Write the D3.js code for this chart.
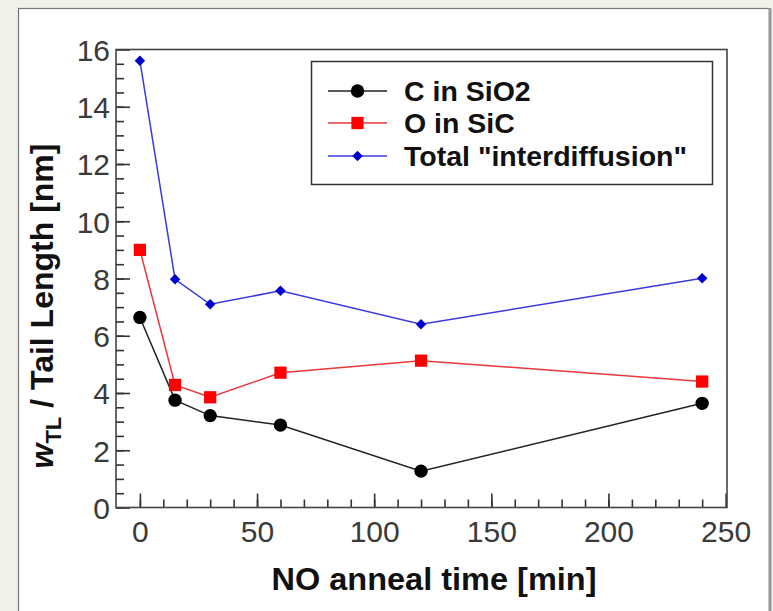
<!DOCTYPE html>
<html>
<head>
<meta charset="utf-8">
<script src="https://d3js.org/d3.v7.min.js"></script>
<style>
  body { margin: 0; background: #f1f1ea; }
  svg { display: block; }
</style>
</head>
<body>
<div id="chart"></div>
<script>
    // anneal times and tail lengths
    const times = [0, 15, 30, 60, 120, 240];
    const cInSiO2 = [6.64, 3.75, 3.21, 2.88, 1.27, 3.64];
    const oInSiC = [9.0, 4.28, 3.85, 4.71, 5.13, 4.40];
    const totalInter = [15.61, 7.97, 7.10, 7.57, 6.40, 8.01];
    const seriesNames = ["C in SiO2", "O in SiC", "Total \"interdiffusion\""];
    const xTicks = [0, 50, 100, 150, 200, 250];
    const yTicks = [0, 2, 4, 6, 8, 10, 12, 14, 16];

    const W = 773, H = 611;
    const margin = {top: 49.5, right: 46, bottom: 103.5, left: 116};
    const width = W - margin.left - margin.right,
        height = H - margin.top - margin.bottom;

    const svg = d3.select("#chart").append("svg")
        .attr("width", W).attr("height", H);

    // white panel
    svg.append("rect")
        .attr("x", 18.5).attr("y", 8.5)
        .attr("width", 751).attr("height", 610)
        .attr("fill", "white")
        .attr("stroke", "#777").attr("stroke-width", 1.2);
    svg.append("line")
        .attr("x1", 770).attr("x2", 770).attr("y1", 8).attr("y2", H)
        .attr("stroke", "#999").attr("stroke-width", 3);

    const g = svg.append("g")
        .attr("transform", "translate(" + margin.left + "," + margin.top + ")");

    const x = d3.scaleLinear().domain([-10.2, 250.6]).range([0, width]);
    const y = d3.scaleLinear().domain([0, 16]).range([height, 0]);

    // minor ticks (inward)
    const xAxisMinor = d3.axisBottom(x).tickValues(d3.range(0, 250, 10))
        .tickSize(-8).tickFormat("");
    const yAxisMinor = d3.axisLeft(y).tickValues(d3.range(0, 16, 0.5))
        .tickSize(-8).tickFormat("");
    g.append("g").attr("transform", "translate(0," + height + ")").call(xAxisMinor)
        .call(a => a.select(".domain").remove());
    g.append("g").call(yAxisMinor).call(a => a.select(".domain").remove());

    // major ticks
    const xAxis = d3.axisBottom(x).tickValues(xTicks).tickSizeInner(-14).tickSizeOuter(0);
    const yAxis = d3.axisLeft(y).tickValues(yTicks).tickSizeInner(-14).tickSizeOuter(0);
    g.append("g").attr("class", "xa").attr("transform", "translate(0," + height + ")").call(xAxis)
        .call(a => a.select(".domain").remove());
    g.append("g").attr("class", "ya").call(yAxis)
        .call(a => a.select(".domain").remove());

    g.selectAll(".tick line").attr("stroke", "#333").attr("stroke-width", 1.6);
    g.selectAll(".tick text")
        .attr("fill", "#3a3a3a")
        .style("font-family", "Liberation Sans, Arial, sans-serif")
        .style("font-size", "30px");
    g.selectAll(".xa .tick text").attr("dy", "0.71em").attr("y", 13);
    g.selectAll(".ya .tick text").attr("x", -6).attr("dy", "0.36em");

    // frame
    g.append("rect")
        .attr("width", width).attr("height", height)
        .attr("fill", "none").attr("stroke", "#444").attr("stroke-width", 1.6);

    const series = [
        {name: seriesNames[0], values: cInSiO2, line: "#222", fill: "#000", shape: d3.symbolCircle, size: 140, rot: 0},
        {name: seriesNames[1], values: oInSiC, line: "#e8383a", fill: "#ff0000", shape: d3.symbolSquare, size: 150, rot: 0},
        {name: seriesNames[2], values: totalInter, line: "#3a3ae0", fill: "#0000cc", shape: d3.symbolSquare, size: 55, rot: 45}
    ];

    const line = d3.line().x(d => x(d[0])).y(d => y(d[1]));

    series.forEach(s => {
        const pts = times.map((t, i) => [t, s.values[i]]);
        g.append("path").datum(pts)
            .attr("d", line)
            .attr("fill", "none").attr("stroke", s.line).attr("stroke-width", 1.5);
        g.selectAll(null).data(pts).enter().append("path")
            .attr("transform", d => "translate(" + x(d[0]) + "," + y(d[1]) + ") rotate(" + s.rot + ")")
            .attr("d", d3.symbol().type(s.shape).size(s.size))
            .attr("fill", s.fill);
    });

    // legend
    const lg = svg.append("g");
    lg.append("rect")
        .attr("x", 311.5).attr("y", 61.5).attr("width", 401).attr("height", 123)
        .attr("fill", "white").attr("stroke", "#333").attr("stroke-width", 1.5);
    const rowY = [91, 123, 156];
    series.forEach((s, i) => {
        lg.append("line")
            .attr("x1", 328).attr("x2", 387).attr("y1", rowY[i]).attr("y2", rowY[i])
            .attr("stroke", s.line).attr("stroke-width", 1.5);
        lg.append("path")
            .attr("transform", "translate(357.5," + rowY[i] + ") rotate(" + s.rot + ")")
            .attr("d", d3.symbol().type(s.shape).size(s.size))
            .attr("fill", s.fill);
        lg.append("text")
            .attr("x", 404).attr("y", rowY[i]).attr("dy", "0.36em")
            .style("font-family", "Liberation Sans, Arial, sans-serif")
            .style("font-weight", "bold").style("font-size", "28.5px")
            .attr("fill", "#111")
            .text(s.name);
    });

    // axis titles
    svg.append("text")
        .attr("x", 434).attr("y", 590)
        .attr("text-anchor", "middle")
        .attr("textLength", 325).attr("lengthAdjust", "spacingAndGlyphs")
        .style("font-family", "Liberation Sans, Arial, sans-serif")
        .style("font-weight", "bold").style("font-size", "31px")
        .attr("fill", "#111")
        .text("NO anneal time [min]");

    const yt = svg.append("text")
        .attr("transform", "translate(53," + 306 + ") rotate(-90)")
        .attr("text-anchor", "middle")
        .style("font-family", "Liberation Sans, Arial, sans-serif")
        .style("font-weight", "bold").style("font-size", "32px")
        .attr("fill", "#111");
    yt.append("tspan").style("font-style", "italic").text("w");
    yt.append("tspan").attr("dy", 8).style("font-size", "22px").text("TL");
    yt.append("tspan").attr("dy", -8).text(" / Tail Length [nm]");
</script>
</body>
</html>
